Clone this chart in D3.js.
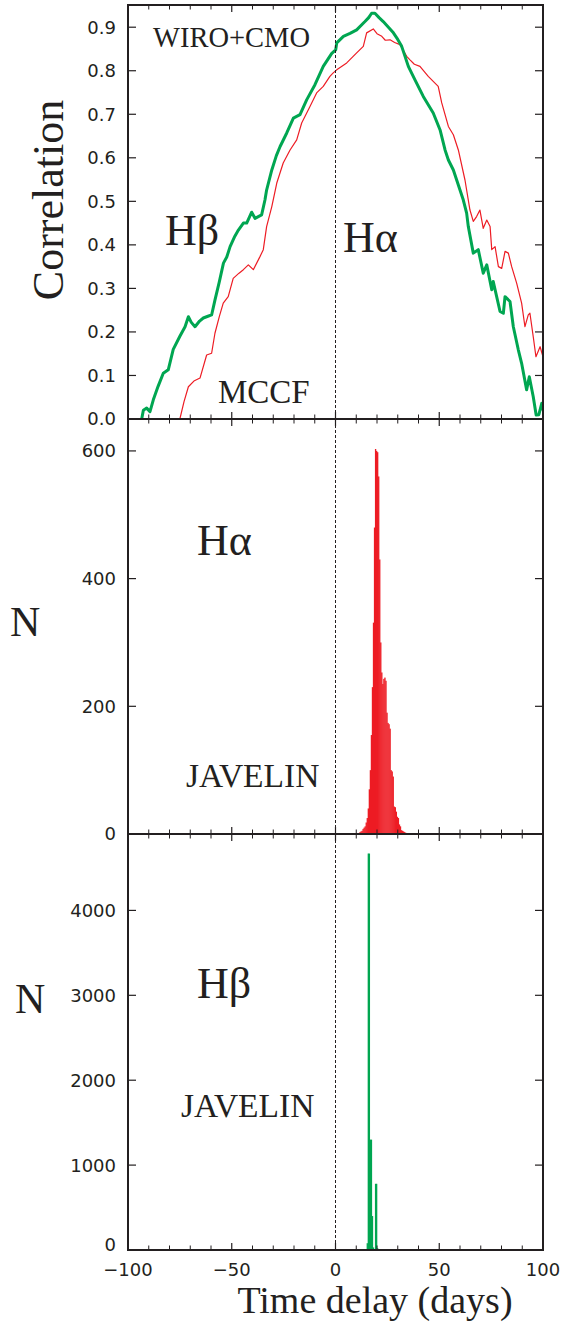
<!DOCTYPE html>
<html>
<head>
<meta charset="utf-8">
<script src="https://cdn.jsdelivr.net/npm/d3@7"></script>
<style>
  html, body { margin: 0; padding: 0; background: #fff; }
  svg { display: block; }
  .tick-label { font-family: "DejaVu Sans", "Liberation Sans", sans-serif; font-size: 18px; fill: #231f20; }
  .serif { font-family: "Liberation Serif", "Times New Roman", serif; fill: #231f20; }
</style>
</head>
<body>
<svg id="chart" width="563" height="1324"></svg>
<script>
// ---- Data -------------------------------------------------------------
// Hβ cross-correlation (MCCF), time delay in days vs correlation
const hbDelay = [-93.4,-92.6,-91.0,-89.4,-87.8,-85.5,-83,-80.6,-78.2,-75,-72.5,-70.9,-69.5,-67.7,-65.5,-63.7,-61.5,-59.7,-58.1,-56,-54,-52.4,-50.8,-48.5,-46.8,-44.4,-42.8,-40.4,-38.8,-35.6,-34,-33.2,-30.7,-28.5,-26.7,-23.5,-20.3,-17.1,-13.9,-9.9,-5.9,-1.8,0.1,0.6,3.8,7,10.2,14.2,16,17.4,19,21,23,25.5,27.9,30,31.9,35.1,38.3,42.3,47.1,50.4,52.8,54.4,56.8,58.4,60,61.6,63.2,64,66.4,68.8,71.2,72.9,75.3,76,79.3,80.9,81.7,84.1,85.7,88.1,89.7,92.1,93.4,95.3,96.7,98,99.4,100];
const hbCorr  = [0,0.02,0.025,0.017,0.044,0.075,0.105,0.113,0.16,0.19,0.212,0.235,0.222,0.212,0.225,0.232,0.236,0.239,0.273,0.315,0.358,0.372,0.396,0.42,0.434,0.45,0.45,0.475,0.461,0.469,0.503,0.526,0.572,0.605,0.626,0.657,0.691,0.699,0.733,0.768,0.81,0.84,0.848,0.864,0.879,0.886,0.894,0.913,0.922,0.932,0.932,0.922,0.913,0.9,0.887,0.872,0.856,0.81,0.779,0.741,0.703,0.664,0.618,0.595,0.572,0.549,0.526,0.503,0.473,0.442,0.381,0.389,0.335,0.354,0.297,0.316,0.247,0.243,0.281,0.27,0.212,0.159,0.128,0.067,0.097,0.051,0.009,0.01,0.036,0.02];

// Hα cross-correlation (MCCF)
const haDelay = [-75,-73,-70.9,-68,-65.3,-62.1,-59.7,-58.1,-56,-54.1,-51.7,-49.3,-46.5,-44.4,-42,-39.6,-36.4,-34.8,-33.2,-30.7,-28.3,-25.2,-21.9,-18.7,-16.3,-12.3,-9.1,-5.9,-2.7,-1.1,0.6,5.4,10.2,13.4,15,18.2,20,22.3,24,26.3,28.5,31.1,34.3,35.9,38,40.7,44.7,49.5,51.2,54.4,56.8,59.2,62.4,64.8,66.4,68,69.6,71.2,72.9,74.5,75.3,76.9,78.5,80.1,81.7,83.3,84.9,87.3,89.7,91.3,92.9,93.7,95.3,96.6,98.6,100];
const haCorr  = [0,0.04,0.074,0.088,0.094,0.147,0.151,0.197,0.235,0.266,0.281,0.323,0.335,0.343,0.354,0.343,0.373,0.389,0.442,0.488,0.542,0.588,0.618,0.641,0.68,0.718,0.749,0.764,0.787,0.795,0.802,0.818,0.841,0.856,0.887,0.896,0.885,0.879,0.87,0.871,0.865,0.86,0.833,0.825,0.815,0.81,0.787,0.764,0.726,0.672,0.653,0.618,0.549,0.48,0.454,0.465,0.48,0.438,0.457,0.442,0.389,0.396,0.35,0.346,0.385,0.381,0.35,0.312,0.266,0.212,0.239,0.243,0.189,0.143,0.166,0.143];

// JAVELIN lag distributions: left bin edge (days), bin width 0.5 days
const binWidth = 0.5;
const haBinStart = [11.5,12,12.5,13,13.5,14,14.5,15,15.5,16,16.5,17,17.5,18,18.5,19,19.5,20,20.5,21,21.5,22,22.5,23,23.5,24,24.5,25,25.5,26,26.5,27,27.5,28,28.5,29,29.5,30,30.5,31,31.5,32,32.5,33,33.5,34];
const haCount    = [3,4,5,8,10,12,18,25,40,70,100,155,230,331,480,603,600,598,560,430,300,253,235,243,245,240,190,174,172,165,100,98,90,43,42,35,27,25,15,12,6,5,4,3,2,1];

const hbBinStart = [15,15.5,16,16.5,17,17.5,18,18.5,19,19.5,20];
const hbCount    = [80,4670,4670,1300,1300,400,30,0,780,780,20];

// Axis ticks and labels
const xTicks = [-100,-50,0,50,100];
const xTickLabels = ["\u2212100","\u221250","0","50","100"];
const corrTicks = [0,0.1,0.2,0.3,0.4,0.5,0.6,0.7,0.8,0.9];
const haTicks = [0,200,400,600];
const hbTicks = [0,1000,2000,3000,4000];

// ---- Layout -----------------------------------------------------------
const svg = d3.select("#chart");
const ink = "#231f20";
const green = "#00a651";
const red = "#ed1c24";

const x = d3.scaleLinear().domain([-100, 100]).range([128, 543]);

const panels = [
  { top: 5,   bottom: 419,  y: d3.scaleLinear().domain([0, 0.951]).range([419, 5]),
    ticks: corrTicks, fmt: d3.format(".1f"), zeroShift: 0 },
  { top: 419, bottom: 834,  y: d3.scaleLinear().domain([0, 650]).range([834, 419]),
    ticks: haTicks, fmt: d3.format("d"), zeroShift: 0 },
  // lowest zero label sits a little higher so it clears the x tick labels
  { top: 834, bottom: 1250, y: d3.scaleLinear().domain([0, 4900]).range([1250, 834]),
    ticks: hbTicks, fmt: d3.format("d"), zeroShift: -5 }
];

const xMinor = d3.range(-90, 100, 10).filter(v => v % 50 !== 0);

// ---- Marks ------------------------------------------------------------
// Top: correlation curves
const pTop = panels[0];
const lineGen = d3.line().x(d => x(d[0])).y(d => pTop.y(d[1]));
svg.append("clipPath").attr("id", "clipTop")
  .append("rect").attr("x", x(-100)).attr("y", pTop.top)
  .attr("width", x(100) - x(-100)).attr("height", pTop.bottom - pTop.top);

svg.append("path")
  .datum(d3.zip(haDelay, haCorr))
  .attr("clip-path", "url(#clipTop)")
  .attr("d", lineGen)
  .attr("fill", "none").attr("stroke", red).attr("stroke-width", 1.2)
  .attr("stroke-linejoin", "round");

svg.append("path")
  .datum(d3.zip(hbDelay, hbCorr))
  .attr("clip-path", "url(#clipTop)")
  .attr("d", lineGen)
  .attr("fill", "none").attr("stroke", green).attr("stroke-width", 3)
  .attr("stroke-linejoin", "round");

// Middle: Hα JAVELIN histogram
const pMid = panels[1];
svg.append("g").selectAll("rect")
  .data(d3.zip(haBinStart, haCount))
  .join("rect")
  .attr("x", d => x(d[0]))
  .attr("width", d => x(d[0] + binWidth) - x(d[0]) + 0.3)
  .attr("y", d => pMid.y(d[1]))
  .attr("height", d => pMid.y(0) - pMid.y(d[1]))
  .attr("fill", red);

// Bottom: Hβ JAVELIN histogram
const pBot = panels[2];
svg.append("g").selectAll("rect")
  .data(d3.zip(hbBinStart, hbCount).filter(d => d[1] > 0))
  .join("rect")
  .attr("x", d => x(d[0]))
  .attr("width", d => x(d[0] + binWidth) - x(d[0]) + 0.3)
  .attr("y", d => pBot.y(d[1]))
  .attr("height", d => pBot.y(0) - pBot.y(d[1]))
  .attr("fill", green);

// Zero-lag dashed line through all panels
svg.append("line")
  .attr("x1", x(0)).attr("x2", x(0))
  .attr("y1", panels[0].top).attr("y2", panels[2].bottom)
  .attr("stroke", ink).attr("stroke-width", 1).attr("stroke-dasharray", "3,2");

// ---- Frames and ticks -------------------------------------------------
panels.forEach(p => {
  const g = svg.append("g");
  const majorLen = 7, minorLen = 4.5, yLen = 8;
  // x ticks on bottom (pointing up) and top (pointing down)
  xTicks.forEach(v => {
    g.append("line").attr("x1", x(v)).attr("x2", x(v))
      .attr("y1", p.bottom).attr("y2", p.bottom - majorLen).attr("stroke", ink).attr("stroke-width", 1.2);
    g.append("line").attr("x1", x(v)).attr("x2", x(v))
      .attr("y1", p.top).attr("y2", p.top + majorLen).attr("stroke", ink).attr("stroke-width", 1.2);
  });
  xMinor.forEach(v => {
    g.append("line").attr("x1", x(v)).attr("x2", x(v))
      .attr("y1", p.bottom).attr("y2", p.bottom - minorLen).attr("stroke", ink).attr("stroke-width", 1);
    g.append("line").attr("x1", x(v)).attr("x2", x(v))
      .attr("y1", p.top).attr("y2", p.top + minorLen).attr("stroke", ink).attr("stroke-width", 1);
  });
  // y ticks on both sides, pointing inward
  p.ticks.forEach(v => {
    const yy = p.y(v);
    g.append("line").attr("x1", x(-100)).attr("x2", x(-100) + yLen)
      .attr("y1", yy).attr("y2", yy).attr("stroke", ink).attr("stroke-width", 1.2);
    g.append("line").attr("x1", x(100)).attr("x2", x(100) - yLen)
      .attr("y1", yy).attr("y2", yy).attr("stroke", ink).attr("stroke-width", 1.2);
    g.append("text").attr("class", "tick-label")
      .attr("x", x(-100) - 12).attr("y", yy + (v === 0 ? p.zeroShift : 0)).attr("dy", "0.36em")
      .attr("text-anchor", "end").text(p.fmt(v));
  });
  // frame
  g.append("rect").attr("x", x(-100)).attr("y", p.top)
    .attr("width", x(100) - x(-100)).attr("height", p.bottom - p.top)
    .attr("fill", "none").attr("stroke", ink).attr("stroke-width", 2);
});

// x tick labels under bottom panel
svg.append("g").selectAll("text")
  .data(d3.zip(xTicks, xTickLabels))
  .join("text").attr("class", "tick-label")
  .attr("x", d => x(d[0])).attr("y", 1276)
  .attr("text-anchor", "middle").text(d => d[1]);

// ---- Text -------------------------------------------------------------
function label(txt, px, py, size, anchor) {
  return svg.append("text").attr("class", "serif")
    .attr("x", px).attr("y", py).attr("font-size", size)
    .attr("text-anchor", anchor || "start").text(txt);
}
label("WIRO+CMO", 153, 47, 28.5);
label("H\u03B2", 165, 245, 44);
label("H\u03B1", 343, 252, 44);
label("MCCF", 218, 403, 33);

label("H\u03B1", 197, 555, 44);
label("JAVELIN", 186, 787, 33.5);

label("H\u03B2", 197, 998, 44);
label("JAVELIN", 181, 1117, 33.5);

label("N", 10, 636, 42);
label("N", 15, 1013, 42);
label("Time delay (days)", 375, 1313, 38, "middle");

svg.append("text").attr("class", "serif")
  .attr("transform", "translate(63,200) rotate(-90)")
  .attr("font-size", 44).attr("text-anchor", "middle").text("Correlation");
</script>
</body>
</html>
